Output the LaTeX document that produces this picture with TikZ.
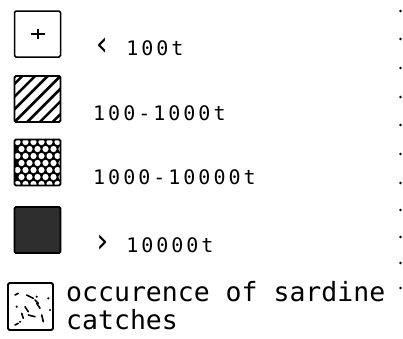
\documentclass[tikz,border=0pt]{standalone}
\usepackage{fontspec}
\usepackage{tikz}
\usetikzlibrary{positioning, calc}
\newfontfamily\legendfont[LetterSpace=15]{DejaVu Sans Mono}
\newfontfamily\notefont{DejaVu Sans Mono}
\newcommand{\chev}[1]{\raisebox{-0.5pt}{\scalebox{1.5}[1.7]{#1}}}

\begin{document}
\begin{tikzpicture}[x=1pt, y=-1pt]
    \tikzstyle{legendbox} = [draw, line width=1.8pt, minimum size=46pt, inner sep=0pt, rounded corners=1.5pt]
    \tikzstyle{classlabel} = [anchor=base west, inner sep=0pt, font=\legendfont\fontsize{20}{22}\selectfont]
    \tikzstyle{notelabel} = [anchor=base west, inner sep=0pt, align=left, font=\notefont\fontsize{26.5}{28}\selectfont]
    \useasboundingbox (0,0) rectangle (403,338);

    % catch classes
    \node [legendbox, line width=1.5pt, path picture={
        \begin{scope}[shift={(path picture bounding box.center)}]
            \draw [line width=2.6pt] (-7,0) -- (7,0);
            \draw [line width=2pt] (0,-5) -- (0,5);
        \end{scope}}] (small) at (37.5,34) {};
    \node [legendbox, path picture={
        \begin{scope}[shift={(path picture bounding box.center)}]
            \foreach \c in {-63.5,-50.8,...,64} \draw [line width=2.6pt] (-30,30+\c) -- (30,-30+\c);
        \end{scope}}] (medium) at (37.5,99) {};
    \node [legendbox, fill=black, path picture={
        \begin{scope}[shift={(path picture bounding box.center)}]
            \foreach \i in {0,...,6}
                \foreach \j in {0,...,5}
                    \fill [white] ({-20+\j*8+mod(\i,2)*4},{-20.5+\i*7}) circle (3.1);
        \end{scope}}] (large) at (37.5,162.5) {};
    \node [legendbox, fill=black!82] (huge) at (37.5,230) {};

    \node [classlabel] (smalltext) at (93,55) {\chev{‹} 100t};
    \node [classlabel] (mediumtext) at (93,120) {100-1000t};
    \node [classlabel] (largetext) at (93,184) {1000-10000t};
    \node [classlabel] (hugetext) at (93,252) {\chev{›} 10000t};

    % sardine catches
    \node [legendbox, minimum width=45pt, minimum height=47pt, path picture={
        \begin{scope}[shift={(path picture bounding box.center)}, line width=1.6pt, line cap=round]
            \draw (-15.5,-11.5) -- (-12.2,-13.2);
            \draw (-3.8,-11.5) -- (2.8,-8.2);
            \draw (4.5,-6.5) -- (7.8,-3.2);
            \draw (-5.5,0.2) -- (-2.2,5.2);
            \draw (6.2,-3.2) -- (9.5,1.8);
            \draw (-8.8,6.8) -- (-7.2,11.8);
            \draw (-2.2,8.5) -- (4.5,10.2);
            \draw (11.2,8.5) -- (12.8,15.2);
            \draw (-15.5,18.5) -- (-12.2,16.8);
            \foreach \p in {(6.2,-9.8),(17.8,-8.2),(-13.8,0.2),(19.5,3.5),(-10.5,15.2)}
                \fill \p circle (1.2);
        \end{scope}}] (sardine) at (30.5,306.5) {};
    \node [notelabel] (sardinetext) at (66,329) {occurence of sardine\\catches};

    % dotted margin
    \foreach \y in {11,39,68,97,125,154,183,210,237,263,288}
        \fill (400.5,\y) circle (1.4);
\end{tikzpicture}
\end{document}
